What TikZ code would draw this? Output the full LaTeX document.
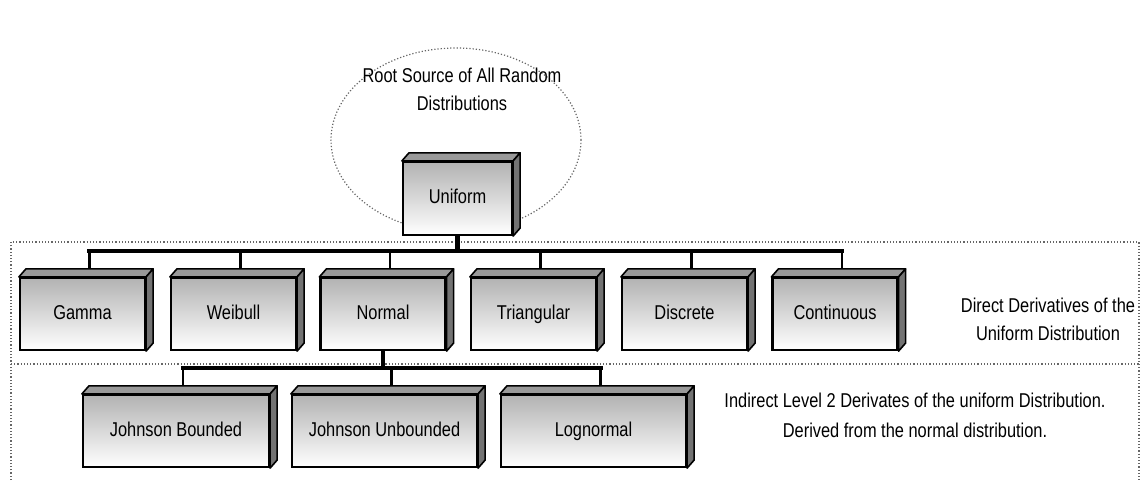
\documentclass[tikz,border=0pt]{standalone}
\usepackage{fontspec}
\setmainfont{Liberation Sans}[FakeStretch=0.82]
\usetikzlibrary{shapes.geometric}

\tikzset{
  distbox/.style={draw,line width=2.2pt,top color=black!30,bottom color=white,inner sep=0pt,
    minimum height=72pt,minimum width=125pt,text height=14pt,text depth=4pt,
    font=\fontsize{20}{24}\selectfont},
  topface/.style={draw,line width=1.6pt,fill=black!40,line join=round},
  sideface/.style={draw,line width=1.6pt,fill=black!55,line join=round},
  bus/.style={line width=4.5pt,line cap=rect},
  stem/.style={line width=2.6pt},
  band/.style={draw=black!60,dotted,line width=1.2pt},
  note/.style={align=center}
}

\begin{document}
\begin{tikzpicture}[x=1pt,y=-1pt]
  \useasboundingbox (0,0) rectangle (1146,480);
  % dotted bands and root ellipse
  \draw[band] (11,480) -- (11,242) -- (1139,242) -- (1139,480);
  \draw[band] (11,364) -- (1139,364);
  \node[band,ellipse,minimum width=250pt,minimum height=184pt] (root) at (456,140) {};
  \node[note,font=\fontsize{20}{28}\selectfont] (rootlbl) at (462,89) {Root Source of All Random\\Distributions};

  % boxes
  \node[distbox,minimum width=109pt,minimum height=73pt] (unif) at (457.5,198.5) {Uniform};
  \node[distbox] (gamma) at (82.5,314) {Gamma};
  \node[distbox] (weib) at (233.5,314) {Weibull};
  \node[distbox] (normal) at (383,314) {Normal};
  \node[distbox] (tri) at (533.5,314) {Triangular};
  \node[distbox] (disc) at (684.5,314) {Discrete};
  \node[distbox] (cont) at (835,314) {Continuous};
  \node[distbox,minimum width=186pt] (jbound) at (176,431) {Johnson Bounded};
  \node[distbox,minimum width=185pt] (junbound) at (384.5,431) {Johnson Unbounded};
  \node[distbox,minimum width=185pt] (logn) at (593.5,431) {Lognormal};

  % 3d faces
  \foreach \n in {unif,gamma,weib,normal,tri,disc,cont,jbound,junbound,logn} {
    \draw[topface] (\n.north west) -- ([shift={(7,-8)}]\n.north west)
      -- ([shift={(7,-8)}]\n.north east) -- (\n.north east) -- cycle;
    \draw[sideface] (\n.north east) -- ([shift={(7,-8)}]\n.north east)
      -- ([shift={(7,-8)}]\n.south east) -- (\n.south east) -- cycle;
    \coordinate (\n-t) at ([shift={(7,-8)}]\n.north);
  }

  % connectors
  \draw[bus] (unif.south) -- ++(0,15) coordinate (hub1);
  \draw[bus] (gamma-t |- hub1) -- (cont-t |- hub1);
  \foreach \n in {gamma,weib,normal,tri,disc,cont}
    \draw[stem] (\n-t |- hub1) -- (\n-t);
  \draw[bus] (normal.south) -- ++(0,17) coordinate (hub2);
  \draw[bus] (jbound-t |- hub2) -- (logn-t |- hub2);
  \foreach \n in {jbound,junbound,logn}
    \draw[stem] (\n-t |- hub2) -- (\n-t);

  % side notes
  \node[note,font=\fontsize{20}{28}\selectfont] (direct) at (1048,319) {Direct Derivatives of the\\Uniform Distribution};
  \node[note,font=\fontsize{20}{30}\selectfont] (indirect) at (915,415) {Indirect Level 2 Derivates of the uniform Distribution.\\Derived from the normal distribution.};
\end{tikzpicture}
\end{document}
